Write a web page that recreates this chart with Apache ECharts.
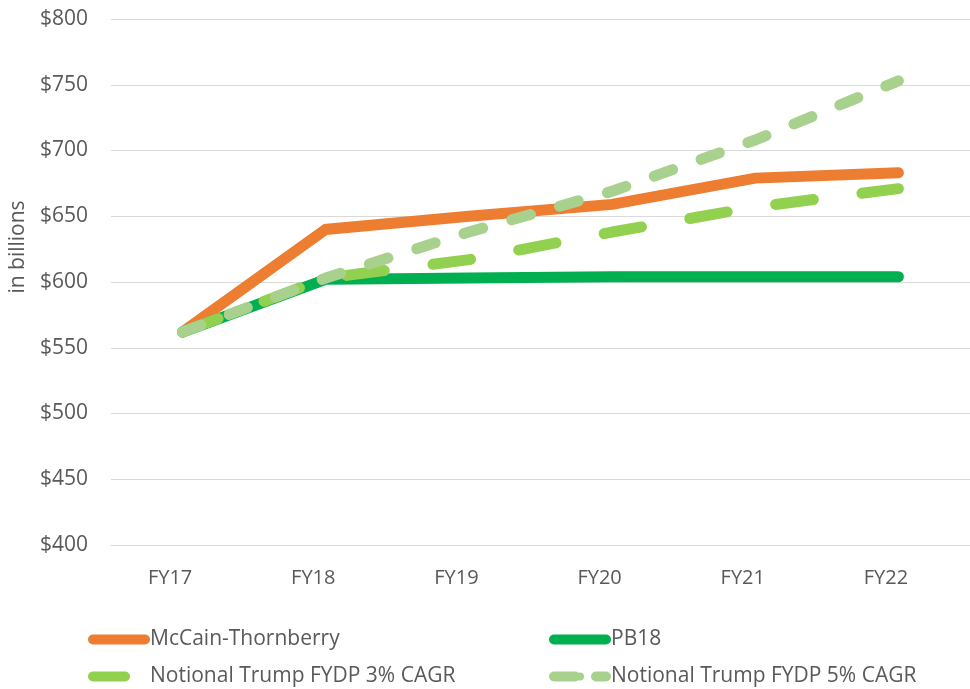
<!DOCTYPE html>
<html>
<head>
<meta charset="utf-8">
<script src="https://cdn.jsdelivr.net/npm/echarts@6/dist/echarts.min.js"></script>
<style>
  html, body { margin: 0; padding: 0; background: #fff; }
  #main { width: 970px; height: 689px; }
</style>
</head>
<body>
<div id="main"></div>
<script>
// fiscal years on the x axis
const years = ['FY17', 'FY18', 'FY19', 'FY20', 'FY21', 'FY22'];
// topline, $ billions
const mccainThornberry = [562, 640, 650, 659, 679, 683];
const pb18 = [562, 602, 603, 604, 604, 604];
const trump3 = [562, 603, 617, 638, 657, 671];
const trump5 = [562, 603, 638, 669, 708, 753];
const seriesNames = [
  'McCain-Thornberry',
  'PB18',
  'Notional Trump FYDP 3% CAGR',
  'Notional Trump FYDP 5% CAGR'
];

const font = '"Open Sans", Lato, sans-serif';
const grey = '#595959';

const chart = echarts.init(document.getElementById('main'));

// one legend per item so they sit in a 2x2 block like the original
function legendAt(name, left, top, lineType) {
  return {
    data: [name],
    left: left,
    top: top,
    padding: 0,
    itemWidth: 52,
    itemHeight: 10,
    textStyle: { fontFamily: font, fontSize: 21, color: grey },
    lineStyle: { width: 10, cap: 'round', type: lineType || 'solid' }
  };
}

chart.setOption({
  animation: false,
  textStyle: { fontFamily: font },
  grid: { left: 111, top: 19, width: 867, height: 526 },
  legend: [
    legendAt(seriesNames[0], 88, 629),
    legendAt(seriesNames[1], 549, 629),
    legendAt(seriesNames[2], 88, 666, [32, 40]),
    legendAt(seriesNames[3], 549, 666, [21, 21])
  ],
  graphic: [{
    type: 'text',
    x: 18,
    y: 247,
    rotation: Math.PI / 2,
    style: {
      text: 'in billions',
      font: '21px ' + font,
      fill: grey,
      align: 'center',
      verticalAlign: 'middle'
    }
  }],
  xAxis: {
    type: 'category',
    data: years,
    boundaryGap: true,
    axisLine: { show: true, lineStyle: { color: '#d9d9d9', width: 1 } },
    axisTick: { show: false },
    axisLabel: {
      color: grey, fontSize: 20, fontFamily: font,
      margin: 23, padding: [0, 25, 0, 0]
    }
  },
  yAxis: {
    type: 'value',
    min: 400,
    max: 800,
    interval: 50,
    axisLine: { show: false },
    axisTick: { show: false },
    splitLine: { lineStyle: { color: '#d9d9d9', width: 1 } },
    axisLabel: {
      color: grey, fontSize: 21, fontFamily: font, margin: 23,
      formatter: v => '$' + v
    }
  },
  series: [
    {
      name: seriesNames[0], type: 'line', data: mccainThornberry,
      symbol: 'none', color: '#ED7D31',
      lineStyle: { width: 11, color: '#ED7D31', cap: 'round', join: 'miter' }
    },
    {
      name: seriesNames[1], type: 'line', data: pb18,
      symbol: 'none', color: '#00B050',
      lineStyle: { width: 11, color: '#00B050', cap: 'round', join: 'miter' }
    },
    {
      name: seriesNames[2], type: 'line', data: trump3,
      symbol: 'none', color: '#92D050',
      lineStyle: { width: 11, color: '#92D050', cap: 'round', type: [38, 49] }
    },
    {
      name: seriesNames[3], type: 'line', data: trump5,
      symbol: 'none', color: '#A9D18E',
      lineStyle: { width: 11, color: '#A9D18E', cap: 'round', type: [19.5, 30.2] }
    }
  ]
});
</script>
</body>
</html>
